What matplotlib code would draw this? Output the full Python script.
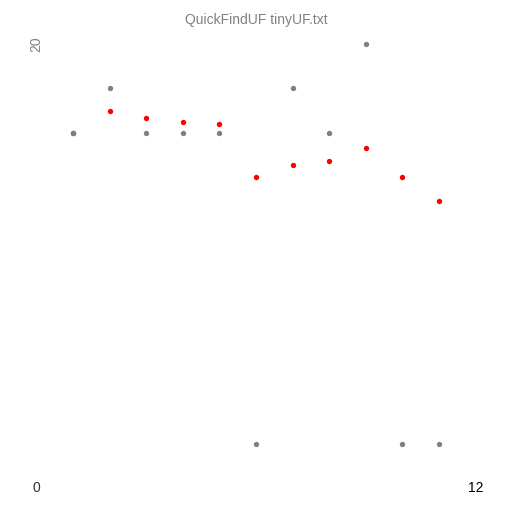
import matplotlib
matplotlib.use("Agg")
import matplotlib.pyplot as plt

title = "QuickFindUF tinyUF.txt"
ops = [1, 2, 3, 4, 5, 6, 7, 8, 9, 10, 11]
cost = [16, 18, 16, 16, 16, 2, 18, 16, 20, 2, 2]
avg = [16, 17, 16.67, 16.5, 16.4, 14, 14.57, 14.75, 15.33, 14, 12.91]
xmax = 12
ymax = 20

plt.rcParams['font.family'] = ['Liberation Sans', 'DejaVu Sans']
fig = plt.figure(figsize=(5.12, 5.12), dpi=100)
ax = fig.add_axes([36.5/512, 24/512, 439.1/512, 444/512])
ax.set_xlim(0, xmax)
ax.set_ylim(0, ymax)
ax.axis('off')

ax.scatter(ops, avg, s=15, color='#ff0000', linewidths=0, zorder=2, clip_on=False)
ax.scatter(ops, cost, s=15, color='#808080', linewidths=0, zorder=3, clip_on=False)

ax.text(0, ymax, str(ymax), rotation=90, ha='center', va='center', color='#808080', fontsize=10, clip_on=False)
ax.text(0, 0, "0", ha='center', va='center', color='#333333', fontsize=10, clip_on=False)
ax.text(xmax, 0, str(xmax), ha='center', va='center', color='black', fontsize=10, clip_on=False)
fig.text(0.5, 1 - 20/512, title, ha='center', va='center', color='#808080', fontsize=10)

fig.savefig("out.png", dpi=100)
